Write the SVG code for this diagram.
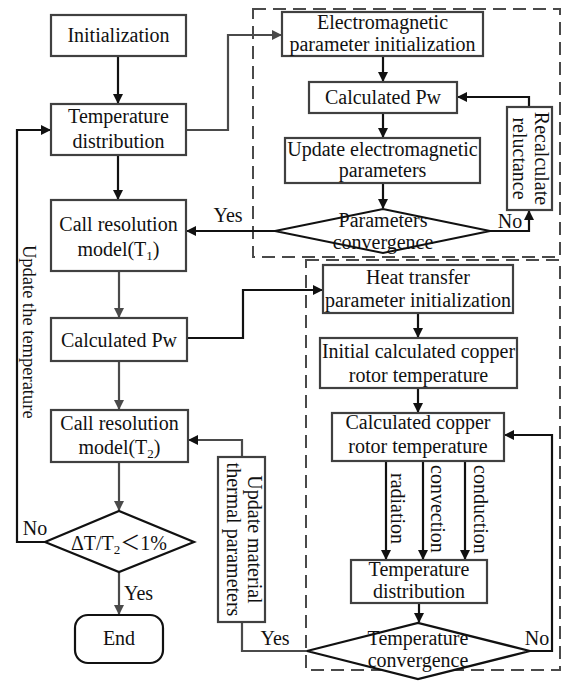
<svg xmlns="http://www.w3.org/2000/svg" width="563" height="681" viewBox="0 0 563 681">
<style>
text{font-family:"Liberation Serif","Times New Roman","DejaVu Serif",serif;font-size:20px;fill:#111;text-anchor:middle}
.cjk{font-family:"Liberation Serif","Noto Sans CJK SC",serif}
.box{fill:#fff;stroke:#404040;stroke-width:2.2}
.dia{fill:#fff;stroke:#111;stroke-width:2.2}
.c{fill:none;stroke:#111;stroke-width:2.2}
.g{fill:none;stroke:#4a4a4a;stroke-width:2.2}
.dash{fill:none;stroke:#4a4a4a;stroke-width:2;stroke-dasharray:13 7}
.l{text-anchor:start}
.sub{font-size:13px}
</style>
<defs>
<marker id="ab" markerWidth="10" markerHeight="10" refX="9" refY="5" orient="auto" markerUnits="userSpaceOnUse"><path d="M0,0 L10,5 L0,10 Z" fill="#111"/></marker>
<marker id="ag" markerWidth="10" markerHeight="10" refX="9" refY="5" orient="auto" markerUnits="userSpaceOnUse"><path d="M0,0 L10,5 L0,10 Z" fill="#4a4a4a"/></marker>
</defs>
<g id="frames">
<rect class="dash" x="253" y="9" width="307" height="248"/>
<rect class="dash" x="306" y="260" width="254" height="410"/>
</g>
<g id="connectors">
<path class="c" d="M118,56 V103" marker-end="url(#ab)"/>
<path class="c" d="M118,155 V199" marker-end="url(#ab)"/>
<path class="g" d="M186,130 H228 V35 H281" marker-end="url(#ag)"/>
<path class="c" d="M383,56 V81" marker-end="url(#ab)"/>
<path class="c" d="M383,113 V137" marker-end="url(#ab)"/>
<path class="c" d="M383,183 V208" marker-end="url(#ab)"/>
<path class="c" d="M490,231 H529 V211" marker-end="url(#ab)"/>
<path class="c" d="M529,107 V97 H458" marker-end="url(#ab)"/>
<path class="c" d="M275,231 H187" marker-end="url(#ab)"/>
<path class="g" d="M119,271 V317" marker-end="url(#ag)"/>
<path class="g" d="M119,361 V409" marker-end="url(#ag)"/>
<path class="g" d="M119,462 V510" marker-end="url(#ag)"/>
<path class="g" d="M119,572 V614" marker-end="url(#ag)"/>
<path class="c" d="M45,542 H17 V130 H50" marker-end="url(#ab)"/>
<path class="c" d="M187,338 H243 V290 H322" marker-end="url(#ab)"/>
<path class="c" d="M418,313 V337" marker-end="url(#ab)"/>
<path class="c" d="M418,388 V412" marker-end="url(#ab)"/>
<path class="c" d="M386,461 V559" marker-end="url(#ab)"/>
<path class="c" d="M423,461 V559" marker-end="url(#ab)"/>
<path class="c" d="M465,461 V559" marker-end="url(#ab)"/>
<path class="c" d="M419,603 V622" marker-end="url(#ab)"/>
<path class="c" d="M530,651 H552 V435 H505" marker-end="url(#ab)"/>
<path class="g" d="M307,651 H242 V622"/>
<path class="g" d="M242,457 V440 H189" marker-end="url(#ab)"/>
<text x="228" y="222">Yes</text>
<text x="510" y="228">No</text>
<text x="35" y="535">No</text>
<text class="l" x="124" y="600">Yes</text>
<text x="275" y="645">Yes</text>
<text x="537" y="645">No</text>
<text class="l" transform="translate(23,245) rotate(90)" style="font-size:18.5px">Update the temperature</text>
<text class="l" transform="translate(391,473) rotate(90)">radiation</text>
<text class="l" transform="translate(431,465) rotate(90)">convection</text>
<text class="l" transform="translate(474,465) rotate(90)">conduction</text>
</g>
<g id="init">
<rect class="box" x="51" y="15" width="135" height="41"/>
<text x="118.5" y="42">Initialization</text>
</g>
<g id="temp1">
<rect class="box" x="51" y="104" width="135" height="51"/>
<text x="118.5" y="123">Temperature</text>
<text x="118.5" y="148">distribution</text>
</g>
<g id="call1">
<rect class="box" x="51" y="200" width="135" height="71"/>
<text x="118.5" y="231">Call resolution</text>
<text x="118.5" y="256">model(T<tspan class="sub" dy="4">1</tspan><tspan dy="-4">)</tspan></text>
</g>
<g id="calcpw1">
<rect class="box" x="51" y="318" width="136" height="43"/>
<text x="119" y="347">Calculated Pw</text>
</g>
<g id="call2">
<rect class="box" x="51" y="410" width="137" height="52"/>
<text x="119.5" y="430">Call resolution</text>
<text x="119.5" y="454">model(T<tspan class="sub" dy="4">2</tspan><tspan dy="-4">)</tspan></text>
</g>
<g id="check">
<polygon class="dia" points="45,542 119,511 194,542 119,572"/>
<text class="cjk" x="119" y="550">ΔT/T<tspan class="sub" dy="4">2</tspan><tspan dy="-4">＜1%</tspan></text>
</g>
<g id="end">
<rect class="dia" x="75" y="615" width="88" height="48" rx="13"/>
<text x="119" y="645">End</text>
</g>
<g id="eminit">
<rect class="box" x="282" y="12" width="201" height="44"/>
<text x="382.5" y="29">Electromagnetic</text>
<text x="382.5" y="51">parameter initialization</text>
</g>
<g id="calcpw2">
<rect class="box" x="309" y="82" width="148" height="31"/>
<text x="383" y="104">Calculated Pw</text>
</g>
<g id="updem">
<rect class="box" x="285" y="138" width="195" height="45"/>
<text x="382.5" y="156">Update electromagnetic</text>
<text x="382.5" y="177">parameters</text>
</g>
<g id="paramconv">
<polygon class="dia" points="275,231 383,209 490,231 383,253"/>
<text x="383" y="227">Parameters</text>
<text x="383" y="249">convergence</text>
</g>
<g id="reluct">
<rect class="box" x="507" y="107" width="45" height="103"/>
<text transform="translate(529.5,158.5) rotate(90)"><tspan x="0" y="-5">Recalculate</tspan><tspan x="0" y="17">reluctance</tspan></text>
</g>
<g id="htinit">
<rect class="box" x="323" y="265" width="190" height="48"/>
<text x="418" y="284">Heat transfer</text>
<text x="418" y="307">parameter initialization</text>
</g>
<g id="initcopper">
<rect class="box" x="320" y="338" width="197" height="50"/>
<text x="418.5" y="358">Initial calculated copper</text>
<text x="418.5" y="382">rotor temperature</text>
</g>
<g id="calccopper">
<rect class="box" x="332" y="413" width="172" height="48"/>
<text x="418" y="429">Calculated copper</text>
<text x="418" y="453">rotor temperature</text>
</g>
<g id="temp2">
<rect class="box" x="351" y="560" width="136" height="43"/>
<text x="419" y="576">Temperature</text>
<text x="419" y="598">distribution</text>
</g>
<g id="tempconv">
<polygon class="dia" points="307,651 418,623 530,651 418,679"/>
<text x="418" y="645">Temperature</text>
<text x="418" y="667">convergence</text>
</g>
<g id="updmat">
<rect class="box" x="218" y="457" width="47" height="165"/>
<text transform="translate(241.5,539.5) rotate(90)"><tspan x="0" y="-6">Update material</tspan><tspan x="0" y="15">thermal parameters</tspan></text>
</g>
</svg>
